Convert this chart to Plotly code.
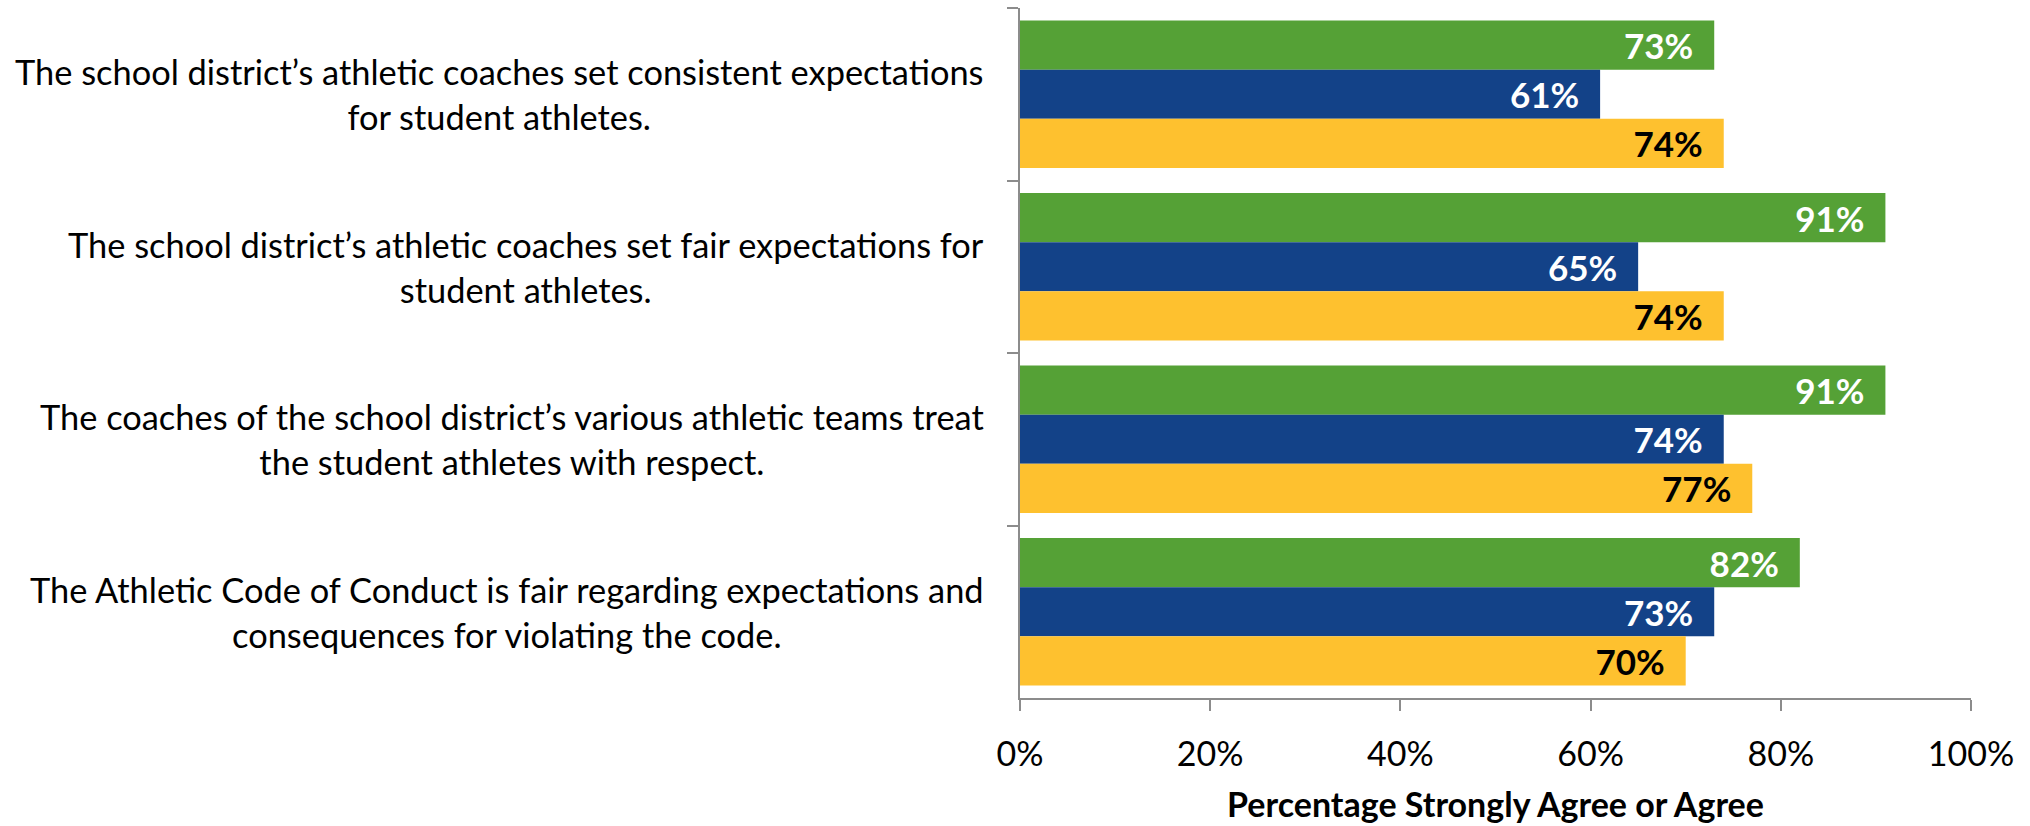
import plotly.graph_objects as go

# Survey statements (category axis) and the share answering Strongly Agree / Agree
categories = [
    "The school district\u2019s athletic coaches set consistent expectations<br>for student athletes.",
    "The school district\u2019s athletic coaches set fair expectations for<br>student athletes.",
    "The coaches of the school district\u2019s various athletic teams treat<br>the student athletes with respect.",
    "The Athletic Code of Conduct is fair regarding expectations and<br>consequences for violating the code.",
]
series_names = ["Group A", "Group B", "Group C"]
green_values = [73, 91, 91, 82]
blue_values = [61, 65, 74, 73]
yellow_values = [74, 74, 77, 70]
x_ticks = [0, 20, 40, 60, 80, 100]
x_tick_labels = ["0%", "20%", "40%", "60%", "80%", "100%"]
x_title = "Percentage Strongly Agree or Agree"

FONT = "Lato"
FS = 34
GREEN = "#55A136"
BLUE = "#134288"
YELLOW = "#FEC12F"
AXIS = "#8C8C8C"

fig = go.Figure()
for name, vals, color, txtcolor in [
    (series_names[0], green_values, GREEN, "white"),
    (series_names[1], blue_values, BLUE, "white"),
    (series_names[2], yellow_values, YELLOW, "black"),
]:
    fig.add_trace(go.Bar(
        y=categories,
        x=vals,
        name=name,
        orientation="h",
        marker=dict(color=color, line=dict(width=0)),
        text=[f"<b>{v}%</b>\u00a0\u00a0" for v in vals],
        textposition="inside",
        insidetextanchor="end",
        textangle=0,
        textfont=dict(family=FONT, size=FS + 1, color=txtcolor),
        constraintext="none",
        cliponaxis=False,
    ))

# Category labels drawn as centred multi-line text to the left of the axis
for cat in categories:
    fig.add_annotation(
        x=0, xref="paper", y=cat, yref="y",
        text=cat, showarrow=False,
        xanchor="right", yanchor="middle", align="center",
        xshift=-34,
        font=dict(family=FONT, size=FS + 0.4, color="black"),
    )

fig.update_layout(
    width=2030, height=826,
    margin=dict(l=1020, r=59, t=8, b=120, pad=0),
    paper_bgcolor="white", plot_bgcolor="white",
    barmode="group", bargap=0.146, bargroupgap=0,
    showlegend=False,
    uniformtext=dict(mode=False),
    font=dict(family=FONT, size=FS, color="black"),
)
fig.update_xaxes(
    range=[0, 100], tickvals=x_ticks, ticktext=x_tick_labels,
    showgrid=False, zeroline=False,
    showline=True, linecolor=AXIS, linewidth=2,
    ticks="outside", ticklen=11, tickwidth=2, tickcolor=AXIS,
    tickfont=dict(family=FONT, size=FS, color="black"),
    ticklabelstandoff=14,
    title=dict(text=f"<b>{x_title}</b>", font=dict(family=FONT, size=FS, color="black"), standoff=21),
)
fig.update_yaxes(
    autorange="reversed", showgrid=False, zeroline=False,
    showline=True, linecolor=AXIS, linewidth=2,
    ticks="outside", ticklen=11, tickwidth=2, tickcolor=AXIS,
    tickson="boundaries", showticklabels=False,
)

fig.write_html("out.html")
